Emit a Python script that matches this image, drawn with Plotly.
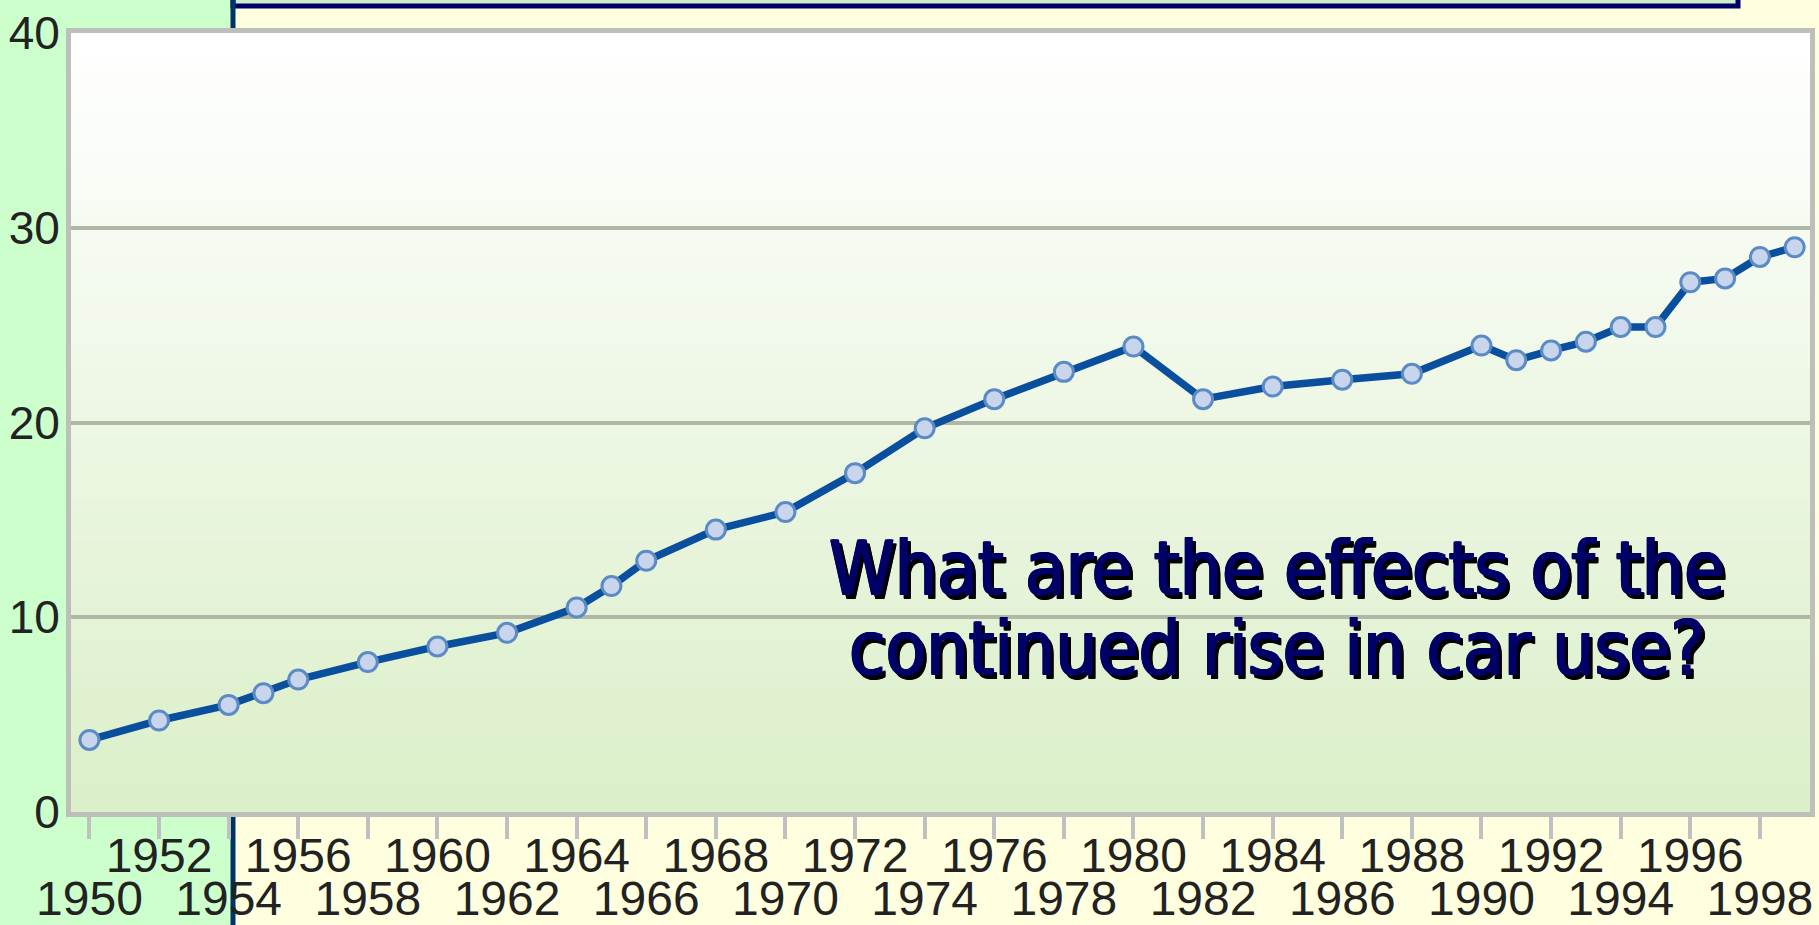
import plotly.graph_objects as go

# ---- data ----
years = [1950, 1952, 1954, 1955, 1956, 1958, 1960, 1962, 1964, 1965, 1966,
         1968, 1970, 1972, 1974, 1976, 1978, 1980, 1982, 1984, 1986, 1988,
         1990, 1991, 1992, 1993, 1994, 1995, 1996, 1997, 1998, 1999]
values = [3.7, 4.7, 5.5, 6.1, 6.8, 7.7, 8.5, 9.2, 10.5, 11.6, 12.9,
          14.5, 15.4, 17.4, 19.7, 21.2, 22.6, 23.9, 21.2, 21.85, 22.2, 22.5,
          23.95, 23.2, 23.7, 24.15, 24.9, 24.9, 27.2, 27.4, 28.5, 29.0]

tick_years = [1950, 1952, 1954, 1956, 1958, 1960, 1962, 1964, 1966, 1968,
              1970, 1972, 1974, 1976, 1978, 1980, 1982, 1984, 1986, 1988,
              1990, 1992, 1994, 1996, 1998]
upper_row_years = [1952, 1956, 1960, 1964, 1968, 1972, 1976, 1980, 1984,
                   1988, 1992, 1996]
lower_row_years = [1950, 1954, 1958, 1962, 1966, 1970, 1974, 1978, 1982,
                   1986, 1990, 1994, 1998]
y_ticks = [0, 10, 20, 30, 40]

question_lines = ["What are the effects of the", "continued rise in car use?"]

# ---- layout geometry (pixels) ----
W, H = 1819, 925
L, R, T, B = 71, 1810, 33, 812
PW, PH = R - L, B - T


def px(X):
    return (X - L) / PW


def py(Y):
    return (B - Y) / PH


x_range = [1949.47, 1999.44]

fig = go.Figure()
fig.add_trace(go.Scatter(
    x=years, y=values, mode="lines+markers",
    line=dict(color="#0A4E9E", width=7.5),
    marker=dict(size=19, color="#C9D5EC", line=dict(color="#5B8BC5", width=3)),
    showlegend=False, hoverinfo="x+y",
))
# empty helper trace so the second (lower-row label) x axis is drawn
fig.add_trace(go.Scatter(x=[], y=[], xaxis="x2", yaxis="y",
                         showlegend=False, hoverinfo="skip"))

shapes = []
# left light-green panel
shapes.append(dict(type="rect", xref="paper", yref="paper", layer="below",
                   x0=px(-20), x1=px(233), y0=py(960), y1=py(-40),
                   fillcolor="#CCFFCC", line=dict(width=0)))
# cut-off title box at top
shapes.append(dict(type="rect", xref="paper", yref="paper", layer="below",
                   x0=px(233), x1=px(1738), y0=py(6), y1=py(-40),
                   fillcolor="#CCEECC", line=dict(color="#000066", width=5)))
# vertical dark-blue divider
shapes.append(dict(type="line", xref="paper", yref="paper", layer="below",
                   x0=px(233), x1=px(233), y0=py(960), y1=py(-40),
                   line=dict(color="#003366", width=5)))
# plot-area vertical gradient (white at top to pale green at bottom)
top_c = (255, 255, 255)
bot_c = (219, 239, 201)
N = 60
for i in range(N):
    f = i / (N - 1)
    c = tuple(round(bot_c[k] + (top_c[k] - bot_c[k]) * f) for k in range(3))
    shapes.append(dict(type="rect", xref="paper", yref="paper", layer="below",
                       x0=0, x1=1, y0=i / N, y1=(i + 1) / N + 0.002,
                       fillcolor="rgb(%d,%d,%d)" % c, line=dict(width=0)))

annotations = []
txt_font = "DejaVu Sans Condensed, DejaVu Sans, sans-serif"
txt_shadow = ("1px 0px 0px #000066, 2px 0px 0px #000066, 0px 1px 0px #000066, "
              "1px 1px 0px #000066, 4px 4px 0px #000000, 5px 4px 0px #000000, "
              "4px 5px 0px #000000, 5px 5px 0px #000000")
line_centers = [568, 648]
for txt, yc in zip(question_lines, line_centers):
    annotations.append(dict(
        text=txt, xref="paper", yref="paper", x=px(1276), y=py(yc),
        xanchor="center", yanchor="middle", showarrow=False,
        font=dict(family=txt_font, size=74, color="#000066",
                  shadow=txt_shadow)))

tick_font = dict(family="Liberation Sans, Arial, sans-serif",
                 size=48, color="#222222")

fig.update_layout(
    width=W, height=H,
    margin=dict(l=L, r=W - R, t=T, b=H - B, pad=0, autoexpand=False),
    paper_bgcolor="#FFFFE0",
    plot_bgcolor="rgba(0,0,0,0)",
    shapes=shapes,
    annotations=annotations,
    xaxis=dict(
        range=x_range, tickvals=tick_years,
        ticktext=[str(y) if y in upper_row_years else "" for y in tick_years],
        ticks="outside", ticklen=22, tickwidth=4, tickcolor="#C0C0C0",
        showline=True, mirror=True, linecolor="#BDBFBA", linewidth=5,
        showgrid=False, zeroline=False, tickfont=tick_font,
        ticklabelstandoff=-25, automargin=False,
    ),
    xaxis2=dict(
        overlaying="x", anchor="y", side="bottom", matches="x",
        range=x_range, tickvals=lower_row_years,
        ticktext=[str(y) for y in lower_row_years],
        ticks="outside", ticklen=22, tickwidth=4, tickcolor="rgba(0,0,0,0)",
        showline=False, showgrid=False, zeroline=False, tickfont=tick_font,
        ticklabelstandoff=22, automargin=False,
    ),
    yaxis=dict(
        range=[0, 40], tickvals=y_ticks, ticktext=[str(v) for v in y_ticks],
        showgrid=True, gridcolor="#B0B7A7", gridwidth=4,
        showline=True, mirror=True, linecolor="#BDBFBA", linewidth=5,
        zeroline=False, ticks="", ticklabelstandoff=-3, automargin=False,
        tickfont=dict(family="Liberation Sans, Arial, sans-serif",
                      size=46, color="#222222"),
    ),
)

fig.write_html("out.html", config={"displayModeBar": False},
               post_script="document.body.style.margin='0';")
